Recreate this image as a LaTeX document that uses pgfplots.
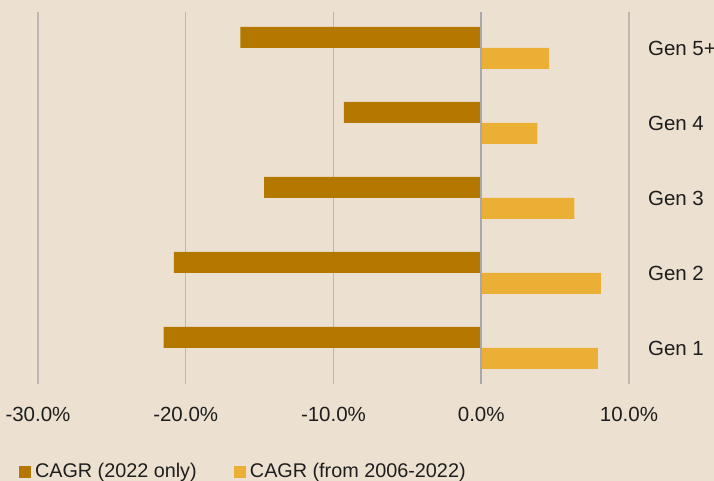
\documentclass[border=0pt]{standalone}
\usepackage{fontspec}
\setmainfont{Liberation Sans}
\usepackage{pgfplots}
\pgfplotsset{compat=1.18}
\definecolor{bg}{HTML}{ECE1D0}
\definecolor{darkbar}{HTML}{B47700}
\definecolor{lightbar}{HTML}{ECAF35}
\definecolor{gridc}{HTML}{BDB8AF}
\definecolor{zeroc}{HTML}{A8A8A8}
\definecolor{txt}{HTML}{1E1E1E}
\begin{document}
\begin{tikzpicture}[font=\fontsize{10.25}{12}\selectfont, text=txt]
\useasboundingbox (-19pt,-48.5pt) rectangle (338pt,192pt);
\fill[bg] (-19pt,-48.5pt) rectangle (338pt,192pt);
\begin{axis}[
  at={(0,0)}, anchor=south west,
  scale only axis, width=295.5pt, height=186pt,
  xmin=-30, xmax=10, ymin=0.52, ymax=5.48,
  xbar, bar width=10.5pt,
  xtick={-30,-20,-10,0,10},
  xticklabels={-30.0\%,-20.0\%,-10.0\%,0.0\%,10.0\%},
  xticklabel style={yshift=-8pt},
  ytick={1,2,3,4,5},
  yticklabels={Gen 1,Gen 2,Gen 3,Gen 4,Gen 5+},
  yticklabel pos=right,
  yticklabel style={anchor=west, xshift=6pt},
  xmajorgrids, grid style={color=gridc, line width=0.65pt},
  axis line style={draw=none},
  major tick length=0pt,
  legend image code/.code={\fill[#1] (0pt,-3pt) rectangle (6pt,3pt);},
  legend style={at={(rel axis cs:0,0)}, anchor=west, xshift=-12.5pt, yshift=-44pt,
    draw=none, fill=none, legend columns=2,
    font=\fontsize{9.9}{12}\selectfont,
    /tikz/every even column/.append style={column sep=17pt},
    nodes={inner sep=1.8pt}},
  legend cell align=left,
]
\addplot[fill=darkbar, draw=none, bar shift=5.25pt] coordinates {
  (-21.5,1) (-20.8,2) (-14.7,3) (-9.3,4) (-16.3,5)};
\addlegendentry{CAGR (2022 only)}
\addplot[fill=lightbar, draw=none, bar shift=-5.25pt] coordinates {
  (7.9,1) (8.1,2) (6.3,3) (3.8,4) (4.6,5)};
\addlegendentry{CAGR (from 2006-2022)}
\draw[zeroc, line width=1pt] (axis cs:0,0.52) -- (axis cs:0,5.48);
\end{axis}
\end{tikzpicture}
\end{document}
